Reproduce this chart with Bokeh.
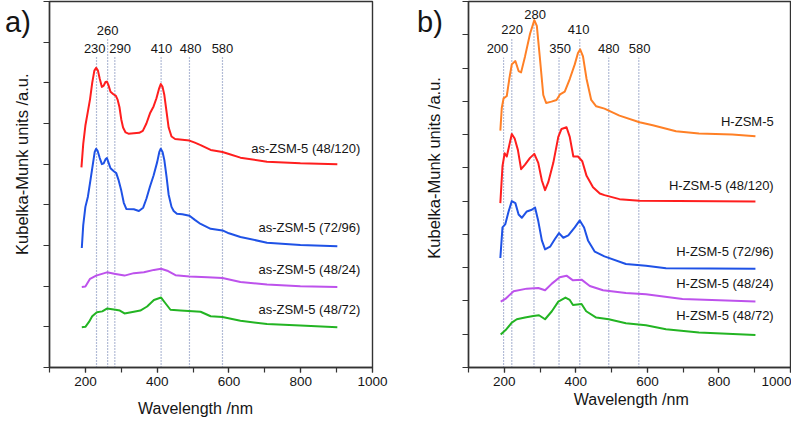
from bokeh.plotting import figure
from bokeh.layouts import row
from bokeh.models import FixedTicker, SingleIntervalTicker, LinearAxis, Div
from bokeh.core.properties import value
from bokeh.embed import file_html
from bokeh.resources import INLINE

FONT = "Liberation Sans"

# ---------------- panel a data ----------------
a_red_x = [189, 194, 200, 207, 213, 219, 225, 230, 235, 240, 246, 251, 256, 260, 264, 270, 278, 285, 290, 295, 300, 305, 312, 320, 335, 350, 360, 370, 380, 390, 398, 405, 410, 415, 420, 426, 432, 440, 450, 470, 490, 505, 521, 549, 582, 600, 632, 706, 799, 902]
a_red_y = [4.92, 5.50, 5.95, 6.30, 6.60, 7.00, 7.30, 7.37, 7.30, 7.10, 6.90, 6.93, 7.02, 7.03, 6.95, 6.78, 6.72, 6.68, 6.58, 6.40, 6.10, 5.90, 5.78, 5.75, 5.76, 5.77, 5.82, 6.00, 6.25, 6.42, 6.62, 6.85, 6.97, 6.90, 6.70, 6.30, 5.90, 5.68, 5.62, 5.60, 5.58, 5.53, 5.47, 5.35, 5.30, 5.25, 5.16, 5.06, 5.02, 5.00]

a_blue_x = [190, 194, 200, 207, 214, 220, 226, 230, 234, 240, 246, 251, 256, 260, 264, 270, 280, 286, 292, 300, 307, 314, 335, 349, 361, 370, 380, 390, 400, 406, 410, 415, 420, 426, 432, 440, 446, 455, 470, 490, 505, 521, 549, 582, 600, 632, 706, 799, 902]
a_blue_y = [2.94, 3.50, 3.95, 4.20, 4.60, 4.95, 5.30, 5.38, 5.33, 5.15, 5.00, 5.02, 5.12, 5.15, 5.05, 4.90, 4.82, 4.78, 4.62, 4.35, 4.05, 3.90, 3.89, 3.85, 3.93, 4.15, 4.45, 4.72, 5.05, 5.30, 5.38, 5.30, 5.10, 4.70, 4.25, 3.95, 3.85, 3.78, 3.77, 3.73, 3.63, 3.53, 3.41, 3.37, 3.30, 3.21, 3.07, 3.01, 2.98]

a_purple_x = [190, 200, 213, 230, 260, 284, 309, 335, 363, 391, 411, 428, 451, 490, 540, 582, 632, 706, 799, 902]
a_purple_y = [1.98, 1.99, 2.18, 2.26, 2.34, 2.30, 2.26, 2.32, 2.34, 2.40, 2.43, 2.38, 2.27, 2.24, 2.22, 2.20, 2.10, 2.04, 2.00, 1.98]

a_green_x = [190, 200, 210, 219, 232, 247, 260, 284, 296, 309, 335, 353, 372, 391, 411, 423, 437, 465, 521, 549, 582, 632, 706, 799, 902]
a_green_y = [0.99, 1.00, 1.12, 1.26, 1.36, 1.38, 1.45, 1.42, 1.40, 1.33, 1.37, 1.40, 1.50, 1.66, 1.72, 1.58, 1.42, 1.40, 1.37, 1.26, 1.24, 1.15, 1.07, 1.03, 0.99]

a_names = ["as-ZSM-5 (48/120)", "as-ZSM-5 (72/96)", "as-ZSM-5 (48/24)", "as-ZSM-5 (48/72)"]
a_name_y = [5.39, 3.44, 2.41, 1.43]

a_line_x = [231, 262, 282, 411, 490, 582]
a_line_top = [7.64, 8.07, 7.64, 7.64, 7.64, 7.64]
a_mark_text = ["230", "260", "290", "410", "480", "580"]
a_mark_x = [226, 262, 297, 412, 493, 582]
a_mark_y = [7.85, 8.28, 7.85, 7.85, 7.85, 7.85]

# ---------------- panel b data ----------------
b_orange_x = [189, 193, 198, 207, 214, 221, 231, 240, 247, 258, 272, 284, 291, 300, 309, 317, 332, 346, 356, 369, 383, 397, 406, 412, 420, 430, 443, 457, 480, 522, 578, 615, 680, 744, 837, 902]
b_orange_y = [7.12, 7.80, 8.09, 8.16, 8.67, 9.11, 9.21, 8.91, 8.87, 9.35, 10.03, 10.44, 10.27, 9.25, 8.19, 7.95, 7.99, 8.04, 8.21, 8.29, 8.67, 9.11, 9.45, 9.56, 9.35, 8.67, 8.04, 7.85, 7.78, 7.57, 7.37, 7.28, 7.10, 7.03, 7.00, 6.95]

b_red_x = [189, 195, 201, 207, 214, 221, 229, 238, 247, 258, 272, 284, 295, 305, 314, 323, 337, 351, 360, 374, 383, 393, 406, 418, 430, 448, 467, 480, 522, 578, 902]
b_red_y = [4.94, 6.05, 6.44, 6.34, 6.68, 7.02, 6.88, 6.54, 5.96, 6.10, 6.30, 6.42, 6.15, 5.62, 5.33, 5.57, 6.15, 6.93, 7.17, 7.22, 6.93, 6.34, 6.34, 6.20, 5.76, 5.42, 5.23, 5.18, 5.06, 5.01, 4.99]

b_blue_x = [189, 195, 203, 212, 221, 231, 240, 249, 263, 277, 286, 295, 305, 314, 328, 342, 353, 365, 379, 397, 411, 423, 434, 453, 480, 540, 596, 652, 902]
b_blue_y = [3.29, 4.21, 4.31, 4.69, 5.00, 4.94, 4.60, 4.50, 4.69, 4.74, 4.81, 4.40, 3.82, 3.55, 3.63, 3.87, 4.04, 3.90, 3.97, 4.21, 4.42, 4.21, 3.82, 3.48, 3.34, 3.11, 3.06, 2.98, 2.97]

b_purple_x = [190, 203, 226, 263, 295, 314, 333, 355, 374, 392, 416, 439, 476, 540, 596, 698, 902]
b_purple_y = [1.98, 2.06, 2.29, 2.37, 2.39, 2.32, 2.52, 2.71, 2.76, 2.62, 2.64, 2.45, 2.32, 2.24, 2.20, 2.06, 1.98]

b_green_x = [190, 206, 221, 235, 258, 281, 297, 314, 333, 351, 371, 383, 392, 416, 429, 457, 492, 540, 596, 652, 744, 902]
b_green_y = [0.99, 1.15, 1.35, 1.45, 1.50, 1.55, 1.57, 1.45, 1.69, 1.98, 2.10, 2.03, 1.88, 1.91, 1.69, 1.50, 1.45, 1.33, 1.27, 1.15, 1.05, 0.98]

b_names = ["H-ZSM-5", "H-ZSM-5 (48/120)", "H-ZSM-5 (72/96)", "H-ZSM-5 (48/24)", "H-ZSM-5 (48/72)"]
b_name_y = [7.39, 5.47, 3.49, 2.53, 1.57]

b_line_x = [198, 221, 283, 353, 411, 492, 576]
b_line_top = [9.31, 9.87, 10.40, 9.31, 9.87, 9.31, 9.31]
b_mark_text = ["200", "220", "280", "350", "410", "480", "580"]
b_mark_x = [181, 222, 286, 356, 408, 492, 578]
b_mark_y = [9.58, 10.16, 10.62, 9.58, 10.16, 9.58, 9.58]

Y_TITLE = "Kubelka-Munk units /a.u."
X_TITLE = "Wavelength /nm"

RED = "#ff1e1e"
BLUE = "#1f52e6"
PURPLE = "#bd52ec"
GREEN = "#23b423"
ORANGE = "#ff8026"
DOT = "#6678ad"
DARK = "#333333"
TXT = "#151515"
FRAME_H = 366


def make_panel(width, bl, br, ymax, ytitle_at, ytitle_standoff, xtitle_at, xtitle_standoff):
    p = figure(width=width, height=422, x_range=(100, 1000), y_range=(0, ymax),
               output_backend="svg", toolbar_location=None,
               min_border_left=bl, min_border_right=br, min_border_top=1,
               min_border_bottom=422 - 1 - FRAME_H)
    p.grid.visible = False
    p.outline_line_color = DARK
    p.outline_line_width = 1.4
    for ax in (p.xaxis[0], p.yaxis[0]):
        ax.axis_line_color = DARK
        ax.axis_line_width = 1.4
        ax.major_tick_line_color = DARK
        ax.minor_tick_line_color = DARK
        ax.major_tick_line_width = 1.2
        ax.minor_tick_line_width = 1.2
        ax.major_tick_in = 0
        ax.minor_tick_in = 0
        ax.major_label_text_font = FONT
        ax.major_label_text_color = TXT
    p.xaxis.ticker = SingleIntervalTicker(interval=200, num_minor_ticks=2)
    p.xaxis.major_tick_out = 5
    p.xaxis.minor_tick_out = 5
    p.xaxis.major_label_text_font_size = "13.5px"
    p.xaxis.major_label_standoff = 4

    # y axis: unlabeled ticks; the axis title sits centred at one tick position
    p.yaxis.ticker = FixedTicker(ticks=list(range(0, ymax + 1)))
    p.yaxis.major_tick_out = 6
    p.yaxis.minor_tick_out = 0
    overrides = {i: "" for i in range(0, ymax + 1)}
    overrides[ytitle_at] = Y_TITLE
    p.yaxis.major_label_overrides = overrides
    p.yaxis.major_label_orientation = "parallel"
    p.yaxis.major_label_text_font_size = "16.5px"
    p.yaxis.major_label_standoff = ytitle_standoff

    # x title on an extra, line-less axis below the main one
    tax = LinearAxis(ticker=FixedTicker(ticks=[xtitle_at], minor_ticks=[]),
                     major_label_overrides={xtitle_at: X_TITLE},
                     axis_line_color=None, major_tick_line_color=None, minor_tick_line_color=None,
                     major_tick_out=0, major_tick_in=0, minor_tick_out=0, minor_tick_in=0,
                     major_label_standoff=xtitle_standoff, major_label_text_font=FONT,
                     major_label_text_font_size="16px", major_label_text_color=TXT)
    p.add_layout(tax, "below")
    p.border_fill_alpha = 0
    return p


pa = make_panel(400, 49, 28, 9, 5, 12, 507, 11)
pa.segment(x0=a_line_x, y0=[0] * len(a_line_x), x1=a_line_x, y1=a_line_top,
           line_color=DOT, line_width=1.2, line_dash="1 2")
for xs, ys, c in ((a_red_x, a_red_y, RED), (a_blue_x, a_blue_y, BLUE),
                  (a_purple_x, a_purple_y, PURPLE), (a_green_x, a_green_y, GREEN)):
    pa.line(xs, ys, line_color=c, line_width=2, line_join="round")
pa.text(x=a_mark_x, y=a_mark_y, text=a_mark_text, text_font=value(FONT), text_font_size="13px",
        text_align="center", text_baseline="middle", text_color=TXT)
pa.text(x=[966] * len(a_names), y=a_name_y, text=a_names, text_font=value(FONT), text_font_size="13px",
        text_align="right", text_baseline="middle", text_color=TXT)

pb = make_panel(391, 68, 1, 11, 6, 19, 555, 2)
pb.segment(x0=b_line_x, y0=[0] * len(b_line_x), x1=b_line_x, y1=b_line_top,
           line_color=DOT, line_width=1.2, line_dash="1 2")
for xs, ys, c in ((b_orange_x, b_orange_y, ORANGE), (b_red_x, b_red_y, RED), (b_blue_x, b_blue_y, BLUE),
                  (b_purple_x, b_purple_y, PURPLE), (b_green_x, b_green_y, GREEN)):
    pb.line(xs, ys, line_color=c, line_width=2, line_join="round")
pb.text(x=b_mark_x, y=b_mark_y, text=b_mark_text, text_font=value(FONT), text_font_size="13px",
        text_align="center", text_baseline="middle", text_color=TXT)
pb.text(x=[953] * len(b_names), y=b_name_y, text=b_names, text_font=value(FONT), text_font_size="13px",
        text_align="right", text_baseline="middle", text_color=TXT)

DIV_STYLE = {"position": "absolute", "top": "0px", "z-index": "10",
             "font-family": FONT, "font-size": "29px", "line-height": "34px", "color": TXT}
div_a = Div(text="a)", styles=dict(DIV_STYLE, left="0px"))
div_b = Div(text="b)", styles=dict(DIV_STYLE, left="412px"))

layout = row(pa, pb, div_a, div_b)
open("out.html", "w").write(file_html(layout, INLINE))
